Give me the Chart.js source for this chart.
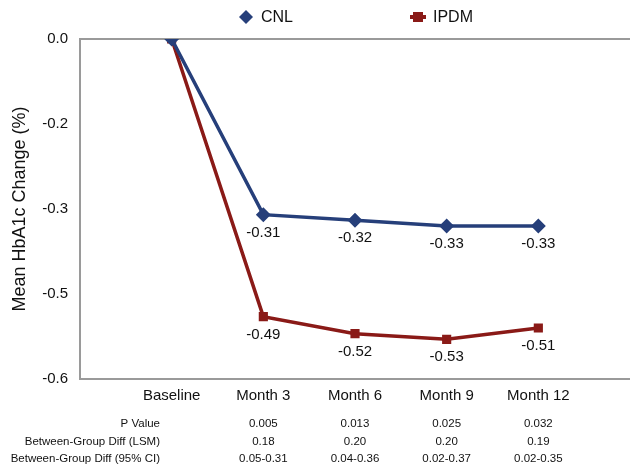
<!DOCTYPE html>
<html>
<head>
<meta charset="utf-8">
<script src="https://cdn.jsdelivr.net/npm/chart.js@4"></script>
<style>
  html, body { margin: 0; padding: 0; background: #fff; }
  #wrap { width: 630px; height: 466px; }
</style>
</head>
<body>
<div id="wrap"><canvas id="chart" width="630" height="466"></canvas></div>
<script>
// axis categories (blank slots at both ends keep the plot edges clear of points)
const categories = ['', 'Baseline', 'Month 3', 'Month 6', 'Month 9', 'Month 12', ''];
const cnlValues = [0, -0.31, -0.32, -0.33, -0.33];
const ipdmValues = [0, -0.49, -0.52, -0.53, -0.51];

// y ticks as printed on the original
const yTickValues = [0, -0.15, -0.3, -0.45, -0.6];
const yTickLabels = ['0.0', '-0.2', '-0.3', '-0.5', '-0.6'];

// table under the axis, one column per month
const tableLabels = ['P Value', 'Between-Group Diff (LSM)', 'Between-Group Diff (95% CI)'];
const tableMonths = ['Month 3', 'Month 6', 'Month 9', 'Month 12'];
const pValues = ['0.005', '0.013', '0.025', '0.032'];
const lsmDiff = ['0.18', '0.20', '0.20', '0.19'];
const ciDiff = ['0.05-0.31', '0.04-0.36', '0.02-0.37', '0.02-0.35'];

const FONT = '"Liberation Sans", Arial, Helvetica, sans-serif';
const CNL_COLOR = '#263f7a';
const IPDM_COLOR = '#8a1a17';
const AXIS_GRAY = '#9a9a9a';

const pad = arr => [null, ...arr, null];

const extras = {
  id: 'extras',
  afterDatasetsDraw(chart) {
    const ctx = chart.ctx;
    const x = chart.scales.x;
    const area = chart.chartArea;
    ctx.save();

    // value labels under each non-baseline point
    ctx.font = '15px ' + FONT;
    ctx.fillStyle = '#111';
    ctx.textAlign = 'center';
    ctx.textBaseline = 'middle';
    chart.data.datasets.forEach((ds, di) => {
      const meta = chart.getDatasetMeta(di);
      meta.data.forEach((pt, i) => {
        const v = ds.data[i];
        if (v === null || v === 0) return;
        ctx.fillText(v.toFixed(2), pt.x, pt.y + 18);
      });
    });

    // table
    const rows = [pValues, lsmDiff, ciDiff];
    ctx.font = '11.5px ' + FONT;
    rows.forEach((vals, r) => {
      const y = area.bottom + 45 + r * 17.5;
      ctx.textAlign = 'right';
      ctx.fillText(tableLabels[r], 160, y);
      ctx.textAlign = 'center';
      vals.forEach((v, c) => {
        ctx.fillText(v, x.getPixelForValue(categories.indexOf(tableMonths[c])), y);
      });
    });

    // legend
    const items = [
      { text: 'CNL', color: CNL_COLOR, style: 'rectRot', cx: 246 },
      { text: 'IPDM', color: IPDM_COLOR, style: 'rect', cx: 418 }
    ];
    ctx.font = '16px ' + FONT;
    ctx.textAlign = 'left';
    items.forEach(it => {
      const cy = 17;
      ctx.fillStyle = it.color;
      ctx.strokeStyle = it.color;
      if (it.style === 'rect') {
        ctx.lineWidth = 4;
        ctx.beginPath();
        ctx.moveTo(it.cx - 8, cy);
        ctx.lineTo(it.cx + 8, cy);
        ctx.stroke();
        ctx.fillRect(it.cx - 5, cy - 5, 10, 10);
      } else {
        ctx.beginPath();
        ctx.moveTo(it.cx, cy - 7);
        ctx.lineTo(it.cx + 7, cy);
        ctx.lineTo(it.cx, cy + 7);
        ctx.lineTo(it.cx - 7, cy);
        ctx.closePath();
        ctx.fill();
      }
      ctx.fillStyle = '#111';
      ctx.fillText(it.text, it.cx + 15, cy + 1);
    });

    ctx.restore();
  }
};

new Chart(document.getElementById('chart'), {
  type: 'line',
  data: {
    labels: categories,
    datasets: [
      {
        label: 'CNL',
        data: pad(cnlValues),
        borderColor: CNL_COLOR,
        backgroundColor: CNL_COLOR,
        borderWidth: 3.5,
        pointStyle: 'rectRot',
        pointRadius: 5,
        pointHoverRadius: 5,
        tension: 0
      },
      {
        label: 'IPDM',
        data: pad(ipdmValues),
        borderColor: IPDM_COLOR,
        backgroundColor: IPDM_COLOR,
        borderWidth: 3.5,
        pointStyle: 'rect',
        pointRadius: 4,
        pointHoverRadius: 4,
        tension: 0
      }
    ]
  },
  options: {
    responsive: false,
    animation: false,
    layout: { autoPadding: false, padding: { top: 39, right: 0, bottom: 61, left: 0 } },
    plugins: {
      legend: { display: false },
      tooltip: { enabled: false }
    },
    scales: {
      x: {
        type: 'category',
        offset: false,
        afterFit(scale) { scale.paddingRight = 0; scale.paddingLeft = 0; },
        grid: { display: false },
        border: { display: true, color: AXIS_GRAY, width: 2 },
        ticks: {
          autoSkip: false,
          maxRotation: 0,
          padding: 0,
          color: '#111',
          font: { family: FONT, size: 15 }
        }
      },
      y: {
        min: -0.6,
        max: 0,
        afterFit(scale) { scale.width = 80; },
        afterBuildTicks(scale) {
          scale.ticks = yTickValues.map(v => ({ value: v }));
        },
        grid: {
          drawTicks: false,
          lineWidth: 2,
          color: c => (c.tick && c.tick.value === 0 ? AXIS_GRAY : 'rgba(0,0,0,0)')
        },
        border: { display: true, color: AXIS_GRAY, width: 2 },
        ticks: {
          padding: 12,
          color: '#111',
          font: { family: FONT, size: 15 },
          callback: (v, i) => yTickLabels[i]
        },
        title: {
          display: true,
          text: 'Mean HbA1c Change (%)',
          color: '#111',
          font: { family: FONT, size: 18 },
          padding: { top: 9, bottom: 0 }
        }
      }
    }
  },
  plugins: [extras]
});
</script>
</body>
</html>
